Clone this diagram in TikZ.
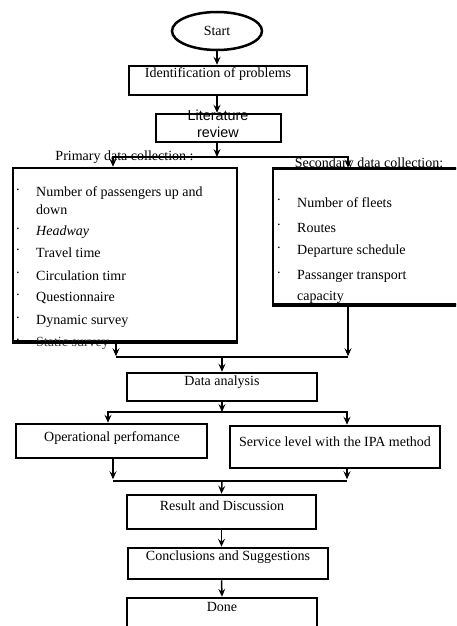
\documentclass[tikz,border=0pt]{standalone}
\usepackage{fontspec}
\setmainfont{Liberation Serif}
\newfontfamily\arialfont{Liberation Sans}
\usetikzlibrary{arrows.meta,shapes.geometric}
\begin{document}
\begin{tikzpicture}[x=1pt,y=-1pt,
  box/.style={draw,line width=2.5pt,rectangle,inner sep=0pt},
  oval/.style={draw,line width=2.5pt,ellipse,inner sep=0pt},
  txt/.style={inner sep=0pt,font=\fontsize{14}{16}\selectfont},
  item/.style={txt,anchor=west},
  dotb/.style={inner sep=0pt,font=\fontsize{14}{16}\selectfont},
  conn/.style={line width=1.5pt},
  arr/.style={conn,-{Stealth[length=8pt,width=7pt,inset=3pt]}}]
\useasboundingbox (0,0) rectangle (456,626);
\clip (0,0) rectangle (456,626);
\fill[white] (0,0) rectangle (456,626);

% boxes
\node[oval,minimum width=90pt,minimum height=38pt] (start) at (217,31) {};
\node[txt] at (217,31) {Start};
\node[box,minimum width=178pt,minimum height=29pt] (ident) at (218,80.5) {};
\node[txt] at (218,74) {Identification of problems};
\node[box,minimum width=125pt,minimum height=28pt] (lit) at (218.5,128) {};
\node[txt,font=\arialfont\fontsize{14.4}{16}\selectfont] at (218,115) {Literature};
\node[txt,font=\arialfont\fontsize{14.4}{16}\selectfont] at (218,132) {review};

\node[box,minimum width=224pt,minimum height=173pt] (prim) at (125,254.5) {};
\node[box,minimum width=197pt,minimum height=135pt] (sec) at (371.5,236.5) {};

\node[box,minimum width=190pt,minimum height=28pt] (data) at (222,387) {};
\node[txt] at (222,382) {Data analysis};
\node[box,minimum width=191pt,minimum height=34pt] (oper) at (111.5,441) {};
\node[txt] at (112,438) {Operational perfomance};
\node[box,minimum width=210pt,minimum height=42pt] (serv) at (335,447) {};
\node[txt] at (335,442) {Service level with the IPA method};
\node[box,minimum width=189pt,minimum height=34pt] (res) at (221.5,512) {};
\node[txt] at (222,506) {Result and Discussion};
\node[box,minimum width=200pt,minimum height=31pt] (concl) at (228,563.5) {};
\node[txt] at (228,557) {Conclusions and Suggestions};
\node[box,minimum width=190pt,minimum height=42pt] (done) at (222,619) {};
\node[txt] at (222,607) {Done};

% headings
\node[txt] at (124.5,157) {Primary data collection :};
\node[txt] at (369,164) {Secondary data collection:};

% primary list
\foreach \y in {193,232,253,276,298,321,343} \node[dotb] at (18,\y-1) {·};
\node[item] at (36,193) {Number of passengers up and};
\node[item] at (36,210) {down};
\node[item] at (36,232) {\itshape Headway};
\node[item] at (36,253) {Travel time};
\node[item] at (36,276) {Circulation timr};
\node[item] at (36,298) {Questionnaire};
\node[item] at (36,321) {Dynamic survey};
\node[item,text=black!75] at (36,343) {Static survey};
\draw[line width=2.5pt] (prim.south west) -- (prim.south east);

% secondary list
\foreach \y in {203,228,251,276} \node[dotb] at (279,\y-1) {·};
\node[item] at (297,203) {Number of fleets};
\node[item] at (297,228) {Routes};
\node[item] at (297,251) {Departure schedule};
\node[item] at (297,276) {Passanger transport};
\node[item] at (297,297) {capacity};
\draw[line width=2.5pt] (sec.south west) -- (sec.south east);
\draw[line width=2.5pt] (sec.north west) -- (sec.north east);

% connector points
\coordinate (s1) at (217,157);
\coordinate (m1) at (222,357);
\coordinate (s2) at (222,412);
\coordinate (m2) at (222,481);
\coordinate (pA) at ([xshift=-12pt]prim.north);
\coordinate (sA) at ([xshift=-23.5pt]sec.north);
\coordinate (pB) at ([xshift=-9pt]prim.south);
\coordinate (sB) at ([xshift=-23.5pt]sec.south);
\coordinate (oA) at ([xshift=-3.5pt]oper.north);
\coordinate (vA) at ([xshift=12pt]serv.north);
\coordinate (oB) at ([xshift=1.5pt]oper.south);
\coordinate (vB) at ([xshift=12pt]serv.south);

\draw[arr] (start.south) -- (ident.north -| start.south);
\draw[arr] (ident.south -| start.south) -- (lit.north -| start.south);
\draw[arr] (lit.south -| start.south) -- (s1);
\draw[arr] (s1) -| (pA);
\draw[arr] (s1) -| (sA);

\draw[arr] (pB) -- ++(0,14);
\draw[arr] (sB) -- ++(0,51);
\draw[conn] (m1 -| pB) -- (m1 -| sB);
\draw[arr] (m1) -- (data.north);

\draw[arr] (data.south) -- (s2);
\draw[arr] (s2) -| (oA);
\draw[arr] (s2) -| (vA);

\draw[arr] (oB) -- ++(0,20);
\draw[arr] (vB) -- ++(0,10);
\draw[conn] (m2 -| oB) -- (m2 -| vB);
\draw[arr] (m2) -- (res.north);
\draw[arr] (res.south) -- (concl.north -| res.south);
\draw[arr] (concl.south -| res.south) -- (done.north);
\end{tikzpicture}
\end{document}
